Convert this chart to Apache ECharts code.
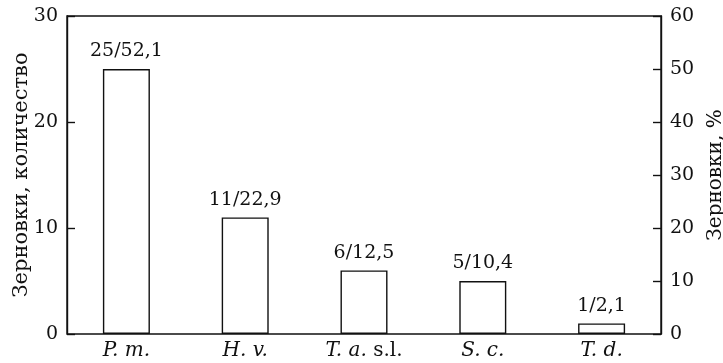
<!DOCTYPE html>
<html><head><meta charset="utf-8">
<script src="https://cdn.jsdelivr.net/npm/echarts@6/dist/echarts.min.js"></script>
<style>html,body{margin:0;padding:0;background:#fff}#c{width:723px;height:363px}</style>
</head><body><div id="c"></div>
<script>
const categories = ['P. m.', 'H. v.', 'T. a. s.l.', 'S. c.', 'T. d.'];
const counts = [25, 11, 6, 5, 1];
const percents = [52.1, 22.9, 12.5, 10.4, 2.1];
const leftTicks = [0, 10, 20, 30];
const rightTicks = [0, 10, 20, 30, 40, 50, 60];

const FONT = 'DejaVu Serif';
const INK = '#111';
const chart = echarts.init(document.getElementById('c'));
chart.setOption({
  animation: false,
  grid: {left: 67, right: 62, top: 16, bottom: 29, outerBoundsMode: 'none', containLabel: false,
    show: true, borderColor: INK, borderWidth: 1.4, backgroundColor: 'transparent'},
  xAxis: {
    type: 'category', data: categories, boundaryGap: true,
    axisLine: {show: false}, axisTick: {show: false},
    axisLabel: {
      interval: 0, margin: 7, color: INK, fontFamily: FONT, fontSize: 20,
      formatter: function (v) {
        if (v === 'T. a. s.l.') return '{i|T. a.} {n|s.l.}';
        return '{i|' + v + '}';
      },
      rich: {
        i: {fontStyle: 'italic', fontFamily: FONT, fontSize: 20, color: INK},
        n: {fontStyle: 'normal', fontFamily: FONT, fontSize: 20, color: INK}
      }
    }
  },
  yAxis: [{
    type: 'value', min: 0, max: 30, interval: 10, position: 'left',
    name: 'Зерновки, количество', nameLocation: 'middle', nameGap: 35, nameRotate: 90,
    nameMoveOverlap: false,
    nameTextStyle: {fontFamily: FONT, fontSize: 21, color: INK},
    axisLine: {show: true, lineStyle: {color: INK, width: 1.4}},
    axisTick: {show: true, inside: true, length: 8, lineStyle: {color: INK, width: 1.4}},
    splitLine: {show: false},
    axisLabel: {margin: 9, color: INK, fontFamily: FONT, fontSize: 19,
      formatter: v => leftTicks.includes(v) ? String(v) : ''}
  }, {
    type: 'value', min: 0, max: 60, interval: 10, position: 'right',
    name: 'Зерновки, %', nameLocation: 'middle', nameGap: 45, nameRotate: 90,
    nameMoveOverlap: false,
    nameTextStyle: {fontFamily: FONT, fontSize: 20, color: INK},
    axisLine: {show: true, lineStyle: {color: INK, width: 1.4}},
    axisTick: {show: true, inside: true, length: 8, lineStyle: {color: INK, width: 1.4}},
    splitLine: {show: false},
    axisLabel: {margin: 9, color: INK, fontFamily: FONT, fontSize: 19,
      formatter: v => rightTicks.includes(v) ? String(v) : ''}
  }],
  series: [{
    type: 'bar', yAxisIndex: 0, data: counts, barWidth: 47,
    itemStyle: {color: '#fff', borderColor: INK, borderWidth: 1.4},
    label: {
      show: true, position: 'top', distance: 8, color: INK, fontFamily: FONT, fontSize: 19,
      formatter: p => counts[p.dataIndex] + '/' + String(percents[p.dataIndex]).replace('.', ',')
    }
  }]
});
</script></body></html>
